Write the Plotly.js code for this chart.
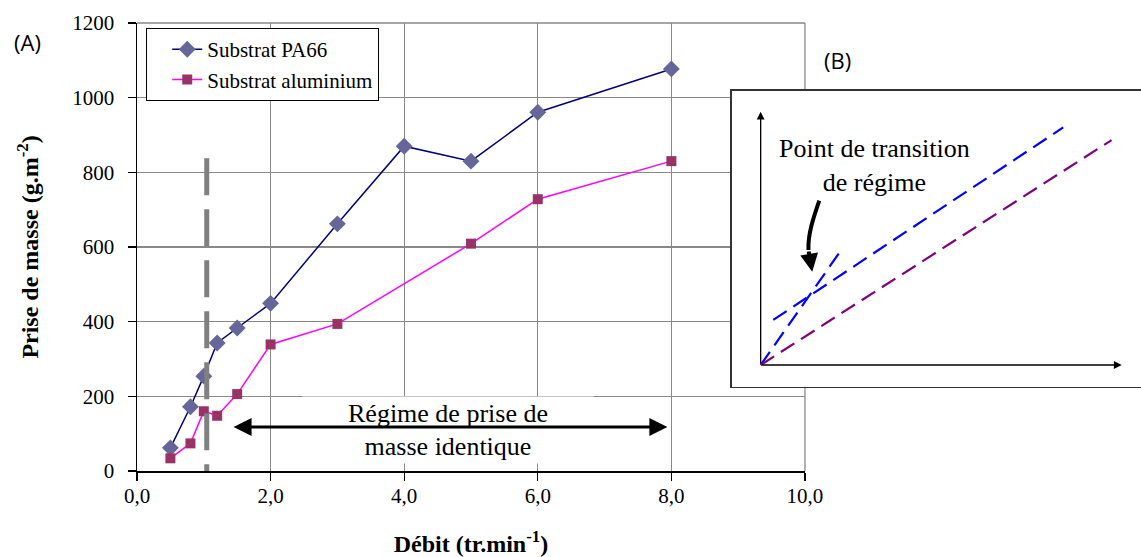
<!DOCTYPE html>
<html>
<head>
<meta charset="utf-8">
<script src="https://cdn.plot.ly/plotly-3.0.1.min.js"></script>
<style>html,body{margin:0;padding:0;background:#fff;}#chart{width:1141px;height:557px;}</style>
</head>
<body>
<div id="chart"></div>
<script>
// ---- Data (A) ----
var flowPA66 = [0.5, 0.8, 1.0, 1.2, 1.5, 2, 3, 4, 5, 6, 8];
var massPA66 = [62, 172, 254, 343, 383, 449, 662, 870, 830, 961, 1077];
var flowAlu = [0.5, 0.8, 1.0, 1.2, 1.5, 2, 3, 5, 6, 8];
var massAlu = [34, 74, 160, 148, 206, 339, 394, 609, 728, 830];
var transitionX = [1.044, 1.044];
var transitionY = [838, 0];
var xTickVals = [0, 2, 4, 6, 8, 10];
var xTickText = ['0,0', '2,0', '4,0', '6,0', '8,0', '10,0'];
var yTickVals = [0, 200, 400, 600, 800, 1000, 1200];
var yTickText = ['0', '200', '400', '600', '800', '1000', '1200'];
var regimeArrowX = [1.423, 7.94];
var regimeArrowY = 117.9;
// ---- Schematic (B) ----
var insetFastX = [0, 0.2197];
var insetFastY = [0, 0.447];
var insetSlowX = [0.035, 0.838];
var insetSlowY = [0.178, 0.938];
var insetAluX = [0, 0.972];
var insetAluY = [0, 0.888];

var serif = "'Liberation Serif', 'Times New Roman', serif";
var sans = "'Open Sans', sans-serif";

var traces = [
  {x: flowPA66, y: massPA66, name: 'Substrat PA66', type: 'scatter', mode: 'lines+markers',
   line: {color: '#000080', width: 1.5},
   marker: {symbol: 'diamond', size: 13, color: '#666699'}},
  {x: flowAlu, y: massAlu, name: 'Substrat aluminium', type: 'scatter', mode: 'lines+markers',
   line: {color: '#FF00FF', width: 1.5},
   marker: {symbol: 'square', size: 10, color: '#993366'}},
  {x: transitionX, y: transitionY, type: 'scatter', mode: 'lines', showlegend: false, hoverinfo: 'skip',
   line: {color: '#808080', width: 5, dash: '37px,14px'}},
  {x: insetSlowX, y: insetSlowY, xaxis: 'x2', yaxis: 'y2', type: 'scatter', mode: 'lines', showlegend: false,
   line: {color: '#0000FF', width: 2.2, dash: '16px,8px'}},
  {x: insetFastX, y: insetFastY, xaxis: 'x2', yaxis: 'y2', type: 'scatter', mode: 'lines', showlegend: false,
   line: {color: '#0000FF', width: 2.2, dash: '16px,8px'}},
  {x: insetAluX, y: insetAluY, xaxis: 'x2', yaxis: 'y2', type: 'scatter', mode: 'lines', showlegend: false,
   line: {color: '#800080', width: 2.2, dash: '16px,8px'}}
];

function axisBase() {
  return {
    showgrid: true, gridcolor: '#888888', gridwidth: 1.3,
    showline: true, linecolor: '#000000', linewidth: 1.5,
    ticks: 'outside', ticklen: 8, tickwidth: 1.3, tickcolor: '#000000',
    zeroline: false, tickmode: 'array',
    tickfont: {family: serif, size: 21, color: '#000000'}
  };
}

var xaxis = axisBase();
xaxis.domain = [0, 0.6653];
xaxis.range = [0, 10];
xaxis.tickvals = xTickVals;
xaxis.ticktext = xTickText;
xaxis.ticklabelstandoff = -3;
xaxis.title = {text: '<b>Débit (tr.min<sup>-1</sup>)</b>', font: {family: serif, size: 24, color: '#000'}, standoff: 33};

var yaxis = axisBase();
yaxis.range = [0, 1200];
yaxis.tickvals = yTickVals;
yaxis.ticktext = yTickText;
yaxis.ticklabelstandoff = 9;
yaxis.title = {text: '<b>Prise de masse (g.m<sup>-2</sup>)</b>', font: {family: serif, size: 24, color: '#000'}, standoff: 27};

var layout = {
  width: 1141, height: 557,
  margin: {l: 137, r: 0, t: 23, b: 86},
  paper_bgcolor: '#ffffff', plot_bgcolor: '#ffffff',
  font: {family: serif, size: 21, color: '#000'},
  showlegend: true,
  xaxis: xaxis,
  yaxis: yaxis,
  xaxis2: {domain: [0.5923, 1], anchor: 'y2', range: [-0.0803, 1.0535],
    showgrid: false, zeroline: false, showticklabels: false, ticks: '',
    showline: true, mirror: true, linecolor: '#333333', linewidth: 1.5},
  yaxis2: {domain: [0.1882, 0.8489], anchor: 'x2', range: [-0.0857, 1.083],
    showgrid: false, zeroline: false, showticklabels: false, ticks: '',
    showline: true, mirror: false, linecolor: '#333333', linewidth: 1.5},
  legend: {x: 0.009, y: 0.989, xanchor: 'left', yanchor: 'top',
    bgcolor: '#ffffff', bordercolor: '#000000', borderwidth: 1.2,
    indentation: 20,
    font: {family: serif, size: 21, color: '#000'}, tracegroupgap: 0},
  shapes: [
    {type: 'line', xref: 'paper', yref: 'paper', x0: 0.6653, x1: 0.6653, y0: 0, y1: 1,
     layer: 'below', line: {color: '#888888', width: 1.3}},
    {type: 'line', xref: 'paper', yref: 'paper', x0: 0, x1: 0.6653, y0: 1, y1: 1,
     layer: 'below', line: {color: '#888888', width: 1.3}},
    {type: 'path', xref: 'x2', yref: 'y2',
     path: 'M0.1623,0.6486 C0.1421,0.5646 0.1310,0.5132 0.1324,0.4540',
     line: {color: '#000000', width: 4}}
  ],
  annotations: [
    {text: '(A)', xref: 'paper', yref: 'paper', x: -0.1086, y: 0.9576, xanchor: 'center', yanchor: 'middle',
     showarrow: false, font: {family: sans, size: 22, color: '#000'}},
    {text: '(B)', xref: 'paper', yref: 'paper', x: 0.698, y: 0.917, xanchor: 'center', yanchor: 'middle',
     showarrow: false, font: {family: sans, size: 22, color: '#000'}},
    {text: 'Régime de prise de<br>masse identique', xref: 'x', yref: 'y', x: 4.66, y: 109.8,
     xanchor: 'center', yanchor: 'middle',
     showarrow: false, bgcolor: '#ffffff', width: 290, height: 66, borderpad: 0,
     font: {family: serif, size: 26, color: '#000'}},
    {text: '', xref: 'x', yref: 'y', x: regimeArrowX[1], y: regimeArrowY,
     axref: 'x', ayref: 'y', ax: regimeArrowX[0], ay: regimeArrowY,
     showarrow: true, arrowhead: 2, startarrowhead: 2, arrowside: 'end+start',
     arrowsize: 1.2, startarrowsize: 1.2, arrowwidth: 3, arrowcolor: '#000', standoff: 0, startstandoff: 0},
    {text: 'Point de transition<br>de régime', xref: 'x2', yref: 'y2', x: 0.314, y: 0.788,
     xanchor: 'center', yanchor: 'middle',
     showarrow: false, font: {family: serif, size: 26, color: '#000'}},
    {text: '', xref: 'x2', yref: 'y2', x: 0, y: 1, axref: 'x2', ayref: 'y2', ax: 0, ay: 0,
     showarrow: true, arrowhead: 2, arrowsize: 1.2, arrowwidth: 1.3, arrowcolor: '#000', standoff: 0},
    {text: '', xref: 'x2', yref: 'y2', x: 1, y: 0, axref: 'x2', ayref: 'y2', ax: 0, ay: 0,
     showarrow: true, arrowhead: 2, arrowsize: 1.2, arrowwidth: 1.3, arrowcolor: '#000', standoff: 0},
    {text: '', xref: 'x2', yref: 'y2', x: 0.1429, y: 0.3681, axref: 'x2', ayref: 'y2', ax: 0.1324, ay: 0.4540,
     showarrow: true, arrowhead: 2, arrowsize: 0.9, arrowwidth: 4, arrowcolor: '#000', standoff: 0}
  ]
};

Plotly.newPlot('chart', traces, layout, {staticPlot: true, displayModeBar: false});
</script>
</body>
</html>
